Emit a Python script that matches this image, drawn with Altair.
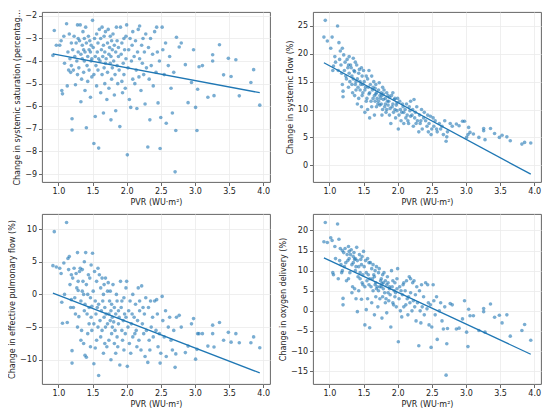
import altair as alt
import pandas as pd

# PVR (WU·m²) for each patient, shared by all four panels
pvr = [
    0.92, 0.94, 0.97,
    1.02, 1.04, 1.05, 1.06, 1.08, 1.09,
    1.12, 1.13, 1.14, 1.15, 1.16, 1.17, 1.18, 1.19, 1.19,
    1.20, 1.20, 1.21, 1.22, 1.23, 1.24, 1.25, 1.26, 1.27, 1.28, 1.28, 1.29, 1.29,
    1.30, 1.31, 1.32, 1.33, 1.33, 1.34, 1.35, 1.35, 1.36, 1.37, 1.37, 1.38, 1.38, 1.39, 1.39,
    1.40, 1.41, 1.41, 1.42, 1.43, 1.43, 1.44, 1.45, 1.45, 1.46, 1.47, 1.47, 1.48, 1.48, 1.49, 1.49,
    1.50, 1.51, 1.52, 1.52, 1.53, 1.54, 1.54, 1.55, 1.56, 1.56, 1.57, 1.58, 1.58, 1.59, 1.59, 1.60,
    1.61, 1.62, 1.62, 1.63, 1.64, 1.64, 1.65, 1.66, 1.66, 1.67, 1.67, 1.68, 1.68, 1.69, 1.69, 1.70,
    1.71, 1.72, 1.72, 1.73, 1.74, 1.74, 1.75, 1.76, 1.76, 1.77, 1.77, 1.78, 1.78, 1.79, 1.79,
    1.80, 1.81, 1.82, 1.82, 1.83, 1.84, 1.84, 1.85, 1.86, 1.86, 1.87, 1.88, 1.88, 1.89,
    1.90, 1.91, 1.92, 1.93, 1.93, 1.94, 1.95, 1.96, 1.96, 1.97, 1.98, 1.99, 1.99,
    2.00, 2.01, 2.02, 2.03, 2.04, 2.05, 2.06, 2.07, 2.08, 2.09, 2.09,
    2.11, 2.12, 2.13, 2.14, 2.15, 2.16, 2.17, 2.18, 2.19, 2.19,
    2.21, 2.22, 2.23, 2.24, 2.25, 2.26, 2.27, 2.28, 2.29,
    2.31, 2.32, 2.33, 2.34, 2.35, 2.36, 2.38, 2.39,
    2.41, 2.43, 2.44, 2.45, 2.46, 2.48, 2.49,
    2.50, 2.52, 2.53, 2.55, 2.57, 2.58,
    2.61, 2.63, 2.65, 2.67, 2.69,
    2.71, 2.72, 2.73, 2.77, 2.80, 2.86, 2.90, 2.95, 2.98, 3.01,
    3.03, 3.04, 3.06, 3.11, 3.19, 3.26, 3.26, 3.28, 3.36, 3.42,
    3.49, 3.53, 3.60, 3.65, 3.82, 3.86, 3.95,
]

# Change in systemic saturation (percentage points)
sat = [
    -3.75, -2.65, -3.3,
    -3.3, -3.1, -5.3, -5.45, -2.9, -4.1,
    -2.35, -5.1, -3.6, -4.4, -2.8, -3.9, -4.5, -3.2, -4.2,
    -7.05, -6.55, -3.5, -4.4, -2.9, -3.8, -5.05, -3.2, -4.0, -2.4, -4.6, -3.6, -3.0,
    -4.3, -3.1, -2.4, -3.7, -5.8, -4.8, -3.3, -3.9, -2.7, -4.5, -3.5, -4.0, -3.0, -5.3, -3.6,
    -2.5, -6.95, -3.2, -4.2, -3.8, -4.9, -2.9, -3.5, -4.4, -3.1, -5.6, -3.6, -4.0, -3.3, -4.7, -3.9,
    -2.2, -3.4, -7.65, -4.6, -3.0, -6.45, -3.8, -4.2, -2.8, -5.1, -3.6, -4.4, -3.2, -7.85, -3.9, -2.6,
    -4.0, -3.0, -5.4, -3.5, -2.5, -4.6, -3.8, -6.3, -3.3, -4.3, -2.9, -5.0, -3.6, -4.1, -2.7, -3.9,
    -5.7, -3.2, -4.5, -2.6, -3.7, -5.2, -3.4, -4.1, -2.9, -6.6, -3.8, -4.8, -3.1, -4.3, -3.5,
    -2.8, -4.0, -5.5, -3.3, -4.6, -6.2, -3.6, -2.5, -4.2, -3.1, -5.0, -3.8, -3.4, -4.4,
    -6.9, -2.5, -3.7, -4.9, -3.2, -5.4, -4.1, -3.0, -4.6, -3.5, -5.2, -2.9, -3.9,
    -2.4, -8.15, -4.3, -3.5, -5.7, -3.0, -6.05, -4.0, -3.3, -4.8, -2.7,
    -3.8, -5.0, -3.1, -4.4, -6.1, -3.6, -2.6, -4.7, -2.45, -3.9,
    -5.3, -3.3, -4.1, -3.0, -4.6, -3.6, -5.9, -2.8, -4.3,
    -7.8, -3.4, -4.8, -6.6, -3.0, -4.2, -3.7, -5.1,
    -2.7, -4.5, -2.5, -3.6, -5.85, -4.0, -7.87,
    -6.5, -2.5, -3.5, -4.6, -3.2, -6.75,
    -4.2, -3.8, -5.2, -6.3, -4.5,
    -8.9, -7.07, -2.95, -3.38, -3.2, -4.16, -5.84, -4.95, -3.5, -6.05,
    -7.07, -5.25, -4.25, -4.2, -5.6, -3.72, -4.0, -5.53, -3.28, -4.61,
    -3.88, -4.68, -3.94, -5.54, -4.95, -4.38, -5.95,
]

# Change in systemic flow (%)
flow = [
    23.0, 26.0, 22.3,
    21.0, 23.0, 17.0, 17.8, 19.5, 18.5,
    25.0, 17.0, 22.0, 19.0, 20.5, 18.0, 16.5, 21.0, 14.5,
    12.3, 13.3, 19.8, 17.0, 18.5, 16.0, 15.5, 19.0, 17.5, 18.0, 14.0, 16.5, 19.5,
    15.0, 18.0, 17.5, 16.0, 14.5, 13.0, 19.2, 15.5, 17.0, 12.5, 16.8, 14.5, 18.5, 13.5, 15.0,
    18.0, 11.0, 15.5, 14.0, 16.5, 12.0, 17.2, 13.5, 15.0, 14.5, 10.5, 17.5, 12.5, 16.0, 14.5, 13.0,
    17.0, 15.0, 9.5, 13.5, 14.0, 11.5, 16.0, 12.0, 15.5, 10.0, 14.0, 12.8, 17.0, 8.5, 13.0, 14.5,
    11.5, 16.0, 10.5, 13.5, 14.0, 12.0, 15.0, 9.0, 12.5, 13.8, 11.5, 12.8, 14.5, 10.5, 13.0, 12.0,
    11.0, 13.5, 11.5, 14.8, 10.8, 12.5, 12.0, 13.0, 11.0, 9.0, 12.5, 10.0, 14.0, 11.8, 12.8,
    13.5, 10.5, 11.0, 12.0, 9.5, 10.0, 13.0, 11.5, 12.5, 10.8, 11.5, 9.0, 12.2, 10.2,
    7.5, 12.5, 10.5, 11.0, 13.0, 9.5, 11.8, 10.0, 12.0, 8.5, 10.8, 11.2, 9.8,
    12.0, 6.5, 9.0, 11.5, 10.0, 8.0, 9.5, 11.0, 10.5, 7.5, 9.5,
    10.0, 8.5, 11.0, 9.0, 8.0, 7.5, 10.5, 9.8, 11.5, 8.8,
    9.0, 10.0, 7.0, 11.8, 8.5, 9.5, 7.5, 10.5, 8.0,
    6.0, 9.0, 7.5, 8.0, 10.0, 6.5, 8.5, 9.5,
    8.0, 7.0, 9.0, 6.0, 7.5, 8.8, 5.5,
    6.5, 8.5, 7.0, 8.0, 6.5, 6.0,
    7.5, 6.5, 7.0, 5.5, 8.0,
    4.3, 5.1, 6.0, 7.5, 7.0, 7.4, 7.1, 7.9, 7.9, 5.0,
    5.5, 6.8, 5.9, 5.6, 5.0, 6.2, 6.6, 4.6, 6.6, 5.7,
    5.0, 5.4, 5.1, 4.4, 3.8, 4.1, 4.0,
]

# Change in effective pulmonary flow (%)
pulm = [
    4.4, 9.6, 4.2,
    4.0, 3.2, -1.2, -4.4, 4.8, 0.0,
    11.0, -4.3, 5.5, 3.8, 5.8, 1.5, -2.0, 3.0, -0.8,
    -10.5, -8.6, 2.5, -2.0, 4.0, -0.5, -3.0, 3.2, 1.0, 6.4, -5.0, 0.6, 2.0,
    -3.4, 3.5, 4.0, -1.0, -7.0, -5.5, 3.8, 0.5, 2.0, -7.5, 0.0, -2.5, 5.0, -9.3, -1.5,
    6.4, -9.6, 1.5, -3.0, 0.0, -6.0, 3.0, -2.0, -4.5, 2.5, -8.0, -0.5, -3.5, 4.5, -5.5, -1.8,
    6.3, 0.5, -10.6, -4.5, 3.5, -8.2, -1.0, -3.0, 2.0, -7.0, -2.0, -5.0, 4.0, -12.4, -1.5, 3.0,
    -4.0, 1.0, -6.5, -2.5, 2.5, -5.5, -1.0, -9.0, 0.0, -3.5, 1.5, -7.5, -2.0, -5.0, 2.5, -3.0,
    -8.0, 0.5, -4.5, 1.8, -3.0, -7.0, -1.0, -4.0, 0.5, -10.0, -2.5, -6.0, -1.5, -5.0, -3.5,
    1.5, -4.2, -7.5, -2.0, -5.5, -9.0, -3.0, 0.0, -6.5, -1.0, -8.0, -4.5, -2.5, -3.5,
    -10.8, 2.0, -2.0, -5.5, -1.0, -7.0, -4.0, -0.5, -8.5, -3.0, -6.0, 1.0, -3.5,
    2.0, -11.0, -5.0, -2.5, -7.5, -1.0, -9.0, -4.5, -3.0, -6.5, 0.0,
    -3.5, -6.0, -1.5, -5.5, -8.0, -4.0, 1.0, -7.0, -1.0, -2.5,
    -8.5, 1.3, -4.5, -2.0, -6.0, -3.0, -9.5, -0.5, -5.5,
    -10.4, -2.0, -7.0, -8.5, -1.0, -5.0, -3.5, -6.5,
    -1.0, -5.5, -0.8, -3.0, -8.0, -6.0, -10.5,
    -9.0, -0.3, -4.0, -6.5, -2.5, -9.5,
    -5.0, -3.5, -7.0, -8.5, -5.5,
    -11.15, -9.1, -3.5, -3.2, -5.0, -8.9, -7.9, -4.5, -3.7, -9.9,
    -8.4, -6.0, -6.0, -6.0, -7.9, -4.7, -6.0, -8.05, -4.3, -7.0,
    -5.8, -7.3, -6.0, -7.4, -7.4, -6.5, -8.15,
]

# Change in oxygen delivery (%)
o2 = [
    17.2, 22.0, 17.0,
    18.2, 17.5, 9.5, 9.0, 16.0, 13.0,
    21.6, 8.0, 17.8, 12.5, 15.5, 11.5, 9.5, 15.0, 10.0,
    1.5, 3.1, 14.5, 11.0, 15.5, 12.0, 7.5, 14.0, 12.5, 16.0, 8.0, 13.0, 14.8,
    9.5, 14.0, 15.2, 11.5, 4.5, 6.0, 13.5, 12.0, 14.5, 5.5, 12.8, 10.0, 13.0, 3.0, 11.0,
    15.8, -0.2, 12.5, 8.5, 11.0, 5.0, 14.0, 9.5, 8.0, 12.8, 2.9, 11.5, 7.0, 13.5, 6.5, 9.0,
    14.8, 11.0, -3.5, 6.0, 12.5, 0.3, 9.5, 7.5, 13.0, 3.0, 9.0, 6.5, 12.0, -4.2, 8.0, 12.0,
    6.0, 10.5, 2.0, 8.0, 11.5, 5.0, 9.0, -1.0, 8.5, 6.5, 10.0, 3.5, 7.0, 5.5, 11.0, 6.0,
    1.0, 9.5, 5.0, 10.5, 6.0, 3.0, 7.5, 6.0, 8.0, -1.8, 6.8, 3.5, 9.0, 5.5, 7.0,
    9.5, 4.5, 2.0, 7.5, 3.0, -0.5, 6.5, 8.5, 4.5, 7.0, 2.5, 5.5, 6.0, 4.0,
    -4.0, 10.0, 6.0, 2.0, 7.5, 1.5, 5.0, 7.0, 3.5, 4.5, 1.0, 8.0, 5.5,
    10.5, -7.7, 3.0, 6.0, 0.0, 5.0, -1.5, 4.0, 6.5, 1.0, 7.0,
    5.0, 1.5, 7.5, 3.0, -1.0, 3.5, 8.5, 2.0, 8.0, 4.5,
    0.0, 7.0, 2.5, 7.5, 1.0, 4.0, -2.5, 6.0, 2.0,
    -8.7, 5.0, 0.0, -3.0, 6.5, 1.0, 3.5, -1.0,
    7.0, 0.5, 6.5, 2.0, -3.5, 1.5, -9.1,
    -4.0, 6.5, 2.5, -1.0, 3.5, -7.1,
    0.0, 2.0, -2.5, -4.5, 1.0,
    -16.0, -8.2, -4.4, 1.8, 1.5, -4.5, -4.3, -2.0, 2.5, -5.3,
    -8.9, 0.4, -1.2, -1.2, -4.9, 0.6, -0.2, -5.3, 1.7, -1.6,
    -1.1, -3.0, -1.0, -6.3, -4.9, -3.4, -7.3,
]

# Fitted regression lines (end points)
fit_pvr = [0.92, 3.95]
fit_sat = [-3.68, -5.40]
fit_flow = [18.4, -1.6]
fit_pulm = [0.2, -12.0]
fit_o2 = [13.2, -10.8]

x_ticks = [1.0, 1.5, 2.0, 2.5, 3.0, 3.5, 4.0]

df = pd.DataFrame({"pvr": pvr, "sat": sat, "flow": flow, "pulm": pulm, "o2": o2})
fit = pd.DataFrame({"pvr": fit_pvr, "sat": fit_sat, "flow": fit_flow,
                    "pulm": fit_pulm, "o2": fit_o2})

W, H = 228, 170
BLUE = "#1f77b4"


def panel(col, title, ydomain, yticks, title_limit=None):
    x = alt.X("pvr:Q",
              scale=alt.Scale(domain=[0.76, 4.10], nice=False, zero=False),
              axis=alt.Axis(title="PVR (WU·m²)", values=x_ticks, format=".1f"))
    axis_kw = dict(title=title, values=yticks, format="d")
    if title_limit is not None:
        axis_kw["titleLimit"] = title_limit
    y = alt.Y(f"{col}:Q",
              scale=alt.Scale(domain=ydomain, nice=False, zero=False),
              axis=alt.Axis(**axis_kw))
    pts = alt.Chart(df).mark_circle(size=13, opacity=0.6, color=BLUE).encode(x=x, y=y)
    line = alt.Chart(fit).mark_line(color=BLUE, strokeWidth=1.3).encode(x=x, y=y)
    return alt.layer(pts, line).properties(width=W, height=H)


p1 = panel("sat", "Change in systemic saturation (percentage points)",
           [-9.35, -1.83], list(range(-9, -1)), title_limit=H + 8)
p2 = panel("flow", "Change in systemic flow (%)", [-3.0, 27.5], [0, 5, 10, 15, 20, 25])
p3 = panel("pulm", "Change in effective pulmonary flow (%)", [-13.7, 12.3], [-10, -5, 0, 5, 10])
p4 = panel("o2", "Change in oxygen delivery (%)", [-18.2, 24.1],
           [-15, -10, -5, 0, 5, 10, 15, 20])

chart = alt.concat(p1, p2, p3, p4, columns=2, spacing={"row": 6, "column": 8}).properties(
    padding={"left": 0, "top": 0, "right": 0, "bottom": 0}
).configure_axis(
    labelFont="DejaVu Sans", titleFont="DejaVu Sans",
    labelFontSize=8, titleFontSize=8, titleFontWeight="normal",
    labelColor="#222222", titleColor="#222222",
    tickColor="#444444", tickSize=3.5, tickWidth=0.8,
    domain=False, gridColor="#ebebeb", gridWidth=0.8,
    titlePadding=3, labelPadding=2,
).configure_view(stroke="#555555", strokeWidth=0.9)

chart.save("out.html", embed_options={"renderer": "svg", "actions": False})
